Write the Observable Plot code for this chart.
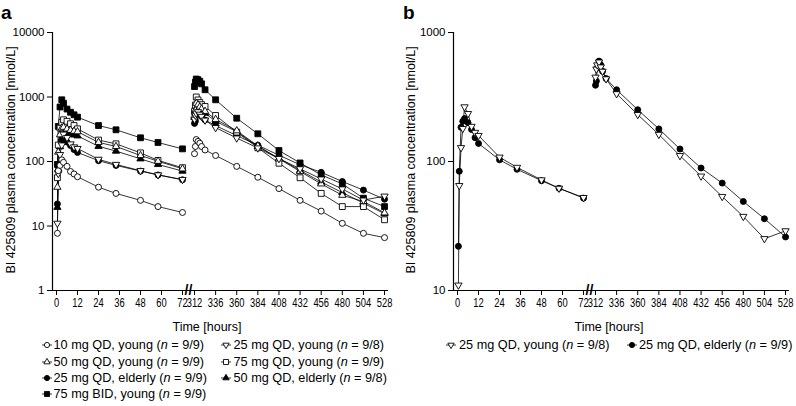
<!DOCTYPE html>
<html><head><meta charset="utf-8">
<script src="https://cdn.jsdelivr.net/npm/d3@7"></script>
<script src="https://cdn.jsdelivr.net/npm/@observablehq/plot@0.6"></script>
<style>
html,body{margin:0;padding:0;background:#fff;}
#root{position:relative;width:796px;height:406px;font-family:"Liberation Sans",Arial,sans-serif;color:#000;overflow:hidden;background:#fff}
.panel{position:absolute;top:0}
.lab{position:absolute;font-weight:bold;font-size:19px;line-height:19px}
.ytitle{position:absolute;font-size:12.5px;line-height:14px;white-space:nowrap;transform:translate(-50%,-50%) rotate(-90deg);}
.xtitle{position:absolute;font-size:12.5px;line-height:14px;white-space:nowrap;transform:translate(-50%,-50%);}
.leg{position:absolute;font-size:12.7px;line-height:15px;white-space:nowrap;display:flex;align-items:center;transform:translateY(-50%)}
.leg svg{display:block;flex:none}
svg [aria-label^="x-axis"] text{font-size:12px}
svg [aria-label^="y-axis"] text{font-size:11.5px}
</style>
</head><body>
<div id="root"></div>
<script>
// ---------- data ----------
const t1 = [0.5, 1, 2, 3, 4, 6, 8, 10, 12, 24, 34, 48, 58, 72];
const t2 = [312, 313, 314, 316, 318, 320, 324, 336, 360, 384, 408, 432, 456, 480, 504, 528];
const xTicks = [0, 12, 24, 36, 48, 60, 72, 312, 336, 360, 384, 408, 432, 456, 480, 504, 528];
const yTicksA = [1, 10, 100, 1000, 10000];
const yTicksB = [10, 100, 1000];

const qd10Young1 = [7.7, 72, 87, 106, 97, 84, 70, 64, 58, 40, 32, 25, 20, 16.2];
const qd10Young2 = [132, 171, 219, 205, 192, 171, 151, 124, 84, 57, 38, 25, 17, 11, 7.7, 6.6];
const qd25Young1 = [11, 65, 128, 180, 265, 235, 187, 168, 159, 108, 90, 72, 62, 52.5];
const qd25Young2 = [450, 520, 560, 590, 540, 500, 437, 335, 231, 162, 111, 77, 53.5, 37.5, 25.2, 29];
const qd50Young1 = [40, 140, 260, 330, 340, 320, 305, 295, 290, 198, 171, 124, 101, 77];
const qd50Young2 = [500, 620, 800, 760, 700, 650, 600, 450, 300, 175, 110, 70, 45, 30, 24, 16];
const qd75Young1 = [56, 180, 330, 406, 443, 420, 385, 361, 321, 215, 188, 136, 104, 80];
const qd75Young2 = [600, 750, 1000, 900, 820, 760, 713, 517, 285, 163, 94, 56, 32, 20, 20, 12.5];
const qd25Elderly1 = [22, 84, 184, 205, 215, 200, 177, 153, 138, 103, 87, 71, 62, 52];
const qd25Elderly2 = [390, 420, 530, 600, 560, 500, 440, 360, 252, 179, 125, 89, 68, 49, 36, 26];
const qd50Elderly1 = [19.5, 77, 170, 230, 260, 270, 265, 258, 250, 172, 145, 110, 90, 71];
const qd50Elderly2 = [480, 560, 700, 680, 640, 600, 560, 420, 290, 170, 112, 73, 48, 33, 22.6, 15.5];
const bid75Young1 = [90, 350, 700, 905, 800, 650, 580, 530, 487, 361, 310, 233, 197, 157];
const bid75Young2 = [1450, 1700, 1900, 1850, 1750, 1600, 1295, 905, 469, 269, 148, 95, 62, 45, 27, 20];

const labels = {
  qd10Young: ["10 mg QD, young", "9/9"],
  qd25Young: ["25 mg QD, young", "9/8"],
  qd50Young: ["50 mg QD, young", "9/9"],
  qd75Young: ["75 mg QD, young", "9/9"],
  qd25Elderly: ["25 mg QD, elderly", "9/9"],
  qd50Elderly: ["50 mg QD, elderly", "9/8"],
  bid75Young: ["75 mg BID, young", "9/9"]
};

// ---------- symbols ----------
const sqrt3 = Math.sqrt(3);
const triangleDown = {
  draw(context, size) {
    const y = -Math.sqrt(size / (sqrt3 * 3));
    context.moveTo(0, -y * 2);
    context.lineTo(-sqrt3 * y, y);
    context.lineTo(sqrt3 * y, y);
    context.closePath();
  }
};
const styles = {
  qd10Young: {symbol: "circle", fill: "white", r: 3},
  qd25Young: {symbol: triangleDown, fill: "white", r: 2.7},
  qd50Young: {symbol: "triangle", fill: "white", r: 2.7},
  qd75Young: {symbol: "square", fill: "white", r: 3.3},
  qd25Elderly: {symbol: "circle", fill: "black", r: 3},
  qd50Elderly: {symbol: "triangle", fill: "black", r: 2.7},
  bid75Young: {symbol: "square", fill: "black", r: 3.3}
};

// drawing order: filled markers first, open markers on top
const seriesA = [
  ["bid75Young", bid75Young1, bid75Young2],
  ["qd50Elderly", qd50Elderly1, qd50Elderly2],
  ["qd25Elderly", qd25Elderly1, qd25Elderly2],
  ["qd75Young", qd75Young1, qd75Young2],
  ["qd50Young", qd50Young1, qd50Young2],
  ["qd25Young", qd25Young1, qd25Young2],
  ["qd10Young", qd10Young1, qd10Young2]
];
const seriesB = [
  ["qd25Elderly", qd25Elderly1, qd25Elderly2],
  ["qd25Young", qd25Young1, qd25Young2]
];

// ---------- layout ----------
const W = 398, H = 312;
const xDomain = [-2.3, 72, 312, 532.5];
const xRange = [52, 182, 194, 388];
const breakX = 192;

function makePanel(series, yDomain, yTicks) {
  const rows = [];
  for (const [name, v1, v2] of series) {
    t1.forEach((t, i) => rows.push({name, key: name + "-1", t, v: v1[i]}));
    t2.forEach((t, i) => rows.push({name, key: name + "-2", t, v: v2[i]}));
  }
  const svg = Plot.plot({
    width: W, height: H,
    marginLeft: 52, marginRight: 10, marginTop: 32, marginBottom: 22,
    style: {fontFamily: "Liberation Sans, Arial, sans-serif", fontSize: "12px", color: "black", background: "white", overflow: "visible"},
    x: {type: "linear", domain: xDomain, range: xRange, ticks: xTicks, tickFormat: d => String(d), tickSize: 5, tickPadding: 3, label: null},
    y: {type: "log", domain: yDomain, ticks: yTicks, tickFormat: d => String(d), tickSize: 5, tickPadding: 3, label: null},
    marks: [
      Plot.ruleY([yDomain[0]], {stroke: "black", strokeWidth: 1.2}),
      Plot.ruleX([xDomain[0]], {stroke: "black", strokeWidth: 1.2}),
      Plot.line(rows, {x: "t", y: "v", z: "key", stroke: "black", strokeWidth: 0.8}),
      ...series.map(([name]) => Plot.dot(rows.filter(r => r.name === name), {
        x: "t", y: "v", symbol: styles[name].symbol, r: styles[name].r,
        fill: styles[name].fill, stroke: "black", strokeWidth: 0.9
      })),
      Plot.text([{x: breakX, y: yDomain[0]}], {x: "x", y: "y", text: () => "//", fontSize: 14, fontWeight: "bold", fill: "black"})
    ]
  });
  svg.querySelectorAll('[aria-label^="x-axis"] text').forEach(t => {
    const tr = t.getAttribute("transform") || "";
    t.setAttribute("transform", (tr + " scale(0.78,1)").trim());
  });
  return svg;
}

function icon(name) {
  const st = styles[name];
  const sym = typeof st.symbol === "string" ? {circle: d3.symbolCircle, triangle: d3.symbolTriangle, square: d3.symbolSquare}[st.symbol] : st.symbol;
  const p = d3.symbol(sym, Math.PI * st.r * st.r * 0.75)();
  const ns = "http://www.w3.org/2000/svg";
  const s = document.createElementNS(ns, "svg");
  s.setAttribute("width", 10); s.setAttribute("height", 9);
  s.innerHTML = `<line x1="0" x2="10" y1="4.5" y2="4.5" stroke="black" stroke-width="0.8"/>` +
    `<path d="${p}" transform="translate(5,4.5)" fill="${st.fill}" stroke="black" stroke-width="0.9"/>`;
  return s;
}

const root = document.getElementById("root");
function place(el, left) { el.classList.add("panel"); el.style.left = left + "px"; root.appendChild(el); }
place(makePanel(seriesA, [1, 10000], yTicksA), 0);
place(makePanel(seriesB, [10, 1000], yTicksB), 401);

function div(cls, html, css) { const d = document.createElement("div"); d.className = cls; d.innerHTML = html; Object.assign(d.style, css); root.appendChild(d); return d; }
div("lab", "a", {left: "1px", top: "3px"});
div("lab", "b", {left: "403px", top: "3px"});
const yTitle = "BI 425809 plasma concentration [nmol/L]";
div("ytitle", yTitle, {left: "11px", top: "160px"});
div("ytitle", yTitle, {left: "411px", top: "160px"});
div("xtitle", "Time [hours]", {left: "207px", top: "327px"});
div("xtitle", "Time [hours]", {left: "609px", top: "327px"});

function legendItem(name, left, top, gap) {
  const d = div("leg", "", {left: left + "px", top: top + "px"});
  d.appendChild(icon(name));
  const sp = document.createElement("span");
  sp.style.marginLeft = gap + "px";
  sp.innerHTML = `${labels[name][0]} (<i>n</i> = ${labels[name][1]})`;
  d.appendChild(sp);
}
legendItem("qd10Young", 42, 345, 1.5);
legendItem("qd25Young", 221, 345, 2.5);
legendItem("qd50Young", 42, 361.5, 1.5);
legendItem("qd75Young", 221, 361.5, 2.5);
legendItem("qd25Elderly", 42, 378, 1.5);
legendItem("qd50Elderly", 221, 378, 2.5);
legendItem("bid75Young", 42, 394, 1.5);
legendItem("qd25Young", 446, 345, 3);
legendItem("qd25Elderly", 627, 345, 2);
</script>
</body></html>
